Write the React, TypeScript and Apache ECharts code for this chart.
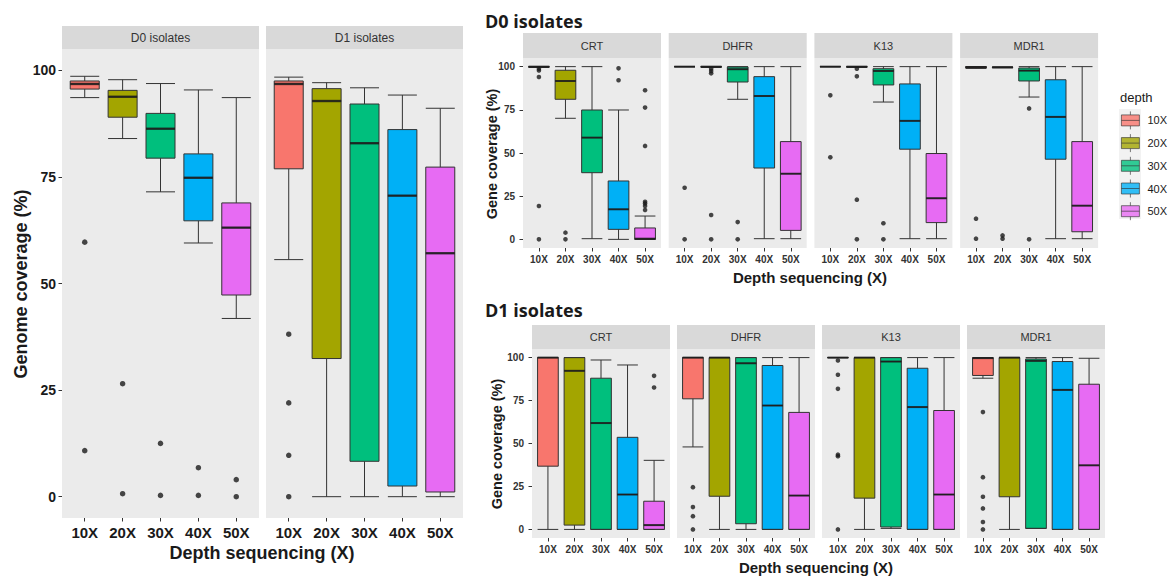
import React, { useEffect, useRef } from 'react';
import * as echarts from 'echarts';

// ---------- data ----------
const depths = ['10X', '20X', '30X', '40X', '50X'];
const depthColors = ['#F8766D', '#A3A500', '#00BF7D', '#00B0F6', '#E76BF3'];
const yTicks = [0, 25, 50, 75, 100];

// Genome coverage (%), each row: [min, Q1, median, Q3, max] per depth
const genomeD0Box = [
  [93.6, 95.6, 96.8, 97.5, 98.6],
  [84.0, 89.0, 93.8, 95.3, 97.8],
  [71.5, 79.4, 86.3, 89.9, 96.9],
  [59.5, 64.7, 74.8, 80.4, 95.4],
  [41.8, 47.3, 63.1, 68.9, 93.6],
];
const genomeD0Out = [[59.7, 10.8], [26.5, 0.7], [12.5, 0.3], [6.8, 0.3], [4.0, 0]];

const genomeD1Box = [
  [55.6, 76.9, 96.8, 97.5, 98.4],
  [0, 32.4, 92.8, 95.7, 97.1],
  [0, 8.3, 82.9, 92.1, 95.9],
  [0, 2.5, 70.6, 86.1, 94.2],
  [0, 1.1, 57.1, 77.3, 91.1],
];
const genomeD1Out = [[38.1, 22.0, 9.7, 0], [], [], [], []];

const geneNames = ['CRT', 'DHFR', 'K13', 'MDR1'];

// Gene coverage (%), D0 isolates
const crtD0Box = [
  [99.5, 99.8, 100, 100, 100],
  [70.1, 81.1, 91.7, 97.9, 100],
  [0.4, 38.6, 58.9, 74.9, 100],
  [0, 5.8, 17.4, 33.8, 74.9],
  [0, 0, 0.4, 6.6, 13.5],
];
const crtD0Out = [[98.8, 97.8, 94.0, 19.3, 0], [3.9, 0], [], [99.0, 92.1], [86.3, 76.3, 54.1, 21.8, 20.8, 19.3, 17.0]];

const dhfrD0Box = [
  [100, 100, 100, 100, 100],
  [99.5, 99.8, 100, 100, 100],
  [81.1, 91.1, 98.5, 99.8, 100],
  [0.4, 41.3, 83.0, 94.2, 100],
  [0.4, 5.2, 38.0, 56.6, 100],
];
const dhfrD0Out = [[29.9, 0], [98.8, 97.5, 96.1, 14.1, 0], [10.0, 0], [], []];

const k13D0Box = [
  [100, 100, 100, 100, 100],
  [99.5, 99.8, 100, 100, 100],
  [79.5, 89.4, 97.5, 98.8, 100],
  [0.4, 52.2, 68.6, 90.0, 100],
  [0.4, 9.7, 23.8, 49.7, 100],
];
const k13D0Out = [[83.4, 47.5], [98.8, 94.4, 23.0, 0], [9.3, 0], [], []];

const mdr1D0Box = [
  [99.0, 99.2, 99.7, 100, 100],
  [99.3, 99.5, 99.6, 99.7, 99.8],
  [82.4, 91.7, 97.7, 99.2, 100],
  [0.4, 46.4, 70.9, 92.4, 100],
  [0.4, 4.4, 19.5, 56.6, 100],
];
const mdr1D0Out = [[12.0, 0.4], [2.3, 0.4], [75.8, 0], [], []];

// Gene coverage (%), D1 isolates
const crtD1Box = [
  [0, 36.8, 100, 100, 100],
  [0, 2.5, 92.3, 100, 100],
  [0, 0, 61.9, 88.0, 98.6],
  [0, 0, 20.3, 53.6, 95.7],
  [0, 0, 2.5, 16.4, 40.2],
];
const crtD1Out = [[], [], [], [], [89.4, 82.6]];

const dhfrD1Box = [
  [48.0, 76.0, 100, 100, 100],
  [0, 19.3, 100, 100, 100],
  [0, 3.3, 96.7, 100, 100],
  [0, 0, 72.1, 95.4, 100],
  [0, 0, 19.7, 68.1, 100],
];
const dhfrD1Out = [[24.6, 13.0, 7.7, 0], [], [], [], []];

const k13D1Box = [
  [100, 100, 100, 100, 100],
  [0, 18.2, 100, 100, 100],
  [0.6, 1.4, 97.7, 100, 100],
  [0, 0, 71.2, 93.8, 100],
  [0, 0, 20.3, 69.2, 100],
];
const k13D1Out = [[98.3, 90.0, 81.8, 43.5, 42.6, 0], [], [], [], []];

const mdr1D1Box = [
  [88.0, 89.6, 99.7, 99.9, 100],
  [0, 19.0, 100, 100, 100],
  [0.6, 0.6, 98.1, 99.2, 100],
  [0, 0, 81.2, 97.7, 100],
  [0, 0, 37.3, 84.5, 99.6],
];
const mdr1D1Out = [[68.3, 30.4, 19.0, 12.2, 4.3, 0], [], [], [], []];

// ---------- layout ----------
const BASE_FONT = "'Liberation Sans', Arial, sans-serif";
const TITLE_FONT = "'Open Sans', 'Liberation Sans', sans-serif";

type Facet = {
  label: string;
  box: number[][];
  out: number[][];
  x: number;
  y: number;
  w: number;
  h: number;
  stripH: number;
  big: boolean;
  showY: boolean;
};

const facets: Facet[] = [
  { label: 'D0 isolates', box: genomeD0Box, out: genomeD0Out, x: 62, y: 49, w: 197, h: 469, stripH: 23, big: true, showY: true },
  { label: 'D1 isolates', box: genomeD1Box, out: genomeD1Out, x: 266, y: 49, w: 197, h: 469, stripH: 23, big: true, showY: false },
];
const topBoxes = [crtD0Box, dhfrD0Box, k13D0Box, mdr1D0Box];
const topOuts = [crtD0Out, dhfrD0Out, k13D0Out, mdr1D0Out];
const botBoxes = [crtD1Box, dhfrD1Box, k13D1Box, mdr1D1Box];
const botOuts = [crtD1Out, dhfrD1Out, k13D1Out, mdr1D1Out];
geneNames.forEach((g, i) => {
  facets.push({ label: g, box: topBoxes[i], out: topOuts[i], x: 523 + i * 145.7, y: 58, w: 138, h: 190, stripH: 25, big: false, showY: i === 0 });
});
geneNames.forEach((g, i) => {
  facets.push({ label: g, box: botBoxes[i], out: botOuts[i], x: 532 + i * 145, y: 349, w: 138, h: 189, stripH: 24, big: false, showY: i === 0 });
});

function buildOption() {
  const grid: any[] = [];
  const xAxis: any[] = [];
  const yAxis: any[] = [];
  const series: any[] = [];
  const graphic: any[] = [];

  facets.forEach((f, i) => {
    const bw = f.big ? 29 : 20.7;
    const dot = f.big ? 5.5 : 4.6;
    const medT = f.big ? 2.4 : 2;
    const labelColor = f.big ? '#1a1a1a' : '#333333';
    grid.push({ left: f.x, top: f.y, width: f.w, height: f.h, show: true, backgroundColor: '#EBEBEB', borderWidth: 0, containLabel: false });
    xAxis.push({
      gridIndex: i,
      type: 'value',
      min: 0.4,
      max: 5.6,
      position: 'bottom',
      axisLine: { show: false, onZero: false },
      splitLine: { show: false },
      axisTick: { show: true, length: 3.5, customValues: [1, 2, 3, 4, 5], lineStyle: { color: '#333', width: 1 } },
      axisLabel: {
        customValues: [1, 2, 3, 4, 5],
        formatter: (v: number) => depths[Math.round(v) - 1] ?? '',
        fontSize: f.big ? 15 : 10,
        fontWeight: 'bold',
        color: labelColor,
        fontFamily: BASE_FONT,
        margin: f.big ? 7 : 6,
      },
    });
    yAxis.push({
      gridIndex: i,
      type: 'value',
      min: -5,
      max: 105,
      position: 'left',
      axisLine: { show: false, onZero: false },
      splitLine: { show: false },
      axisTick: { show: f.showY, length: 3.5, customValues: yTicks, lineStyle: { color: '#333', width: 1 } },
      axisLabel: {
        show: f.showY,
        customValues: yTicks,
        fontSize: f.big ? 14 : 10,
        fontWeight: 'bold',
        color: labelColor,
        fontFamily: BASE_FONT,
        margin: f.big ? 6 : 8,
      },
    });
    series.push({
      type: 'boxplot',
      xAxisIndex: i,
      yAxisIndex: i,
      boxWidth: [bw, bw],
      silent: true,
      emphasis: { disabled: true },
      itemStyle: { borderColor: '#333333', borderWidth: 1 },
      data: f.box.map((b, k) => ({ value: [k + 1, ...b], itemStyle: { color: depthColors[k], borderColor: '#333333', borderWidth: 1 } })),
      z: 2,
    });
    series.push({
      type: 'scatter',
      xAxisIndex: i,
      yAxisIndex: i,
      silent: true,
      symbol: 'rect',
      symbolSize: [bw, medT],
      itemStyle: { color: '#1a1a1a' },
      data: f.box.map((b, k) => [k + 1, b[2]]),
      z: 4,
    });
    series.push({
      type: 'scatter',
      xAxisIndex: i,
      yAxisIndex: i,
      silent: true,
      symbol: 'circle',
      symbolSize: dot,
      itemStyle: { color: '#1a1a1a' },
      data: f.out.flatMap((vals, k) => vals.map((v) => [k + 1, v])),
      z: 5,
    });
    // strip
    graphic.push({ type: 'rect', shape: { x: f.x, y: f.y - f.stripH, width: f.w, height: f.stripH }, style: { fill: '#D9D9D9' }, silent: true });
    graphic.push({
      type: 'text',
      x: f.x + f.w / 2,
      y: f.y - f.stripH / 2,
      silent: true,
      style: { text: f.label, textAlign: 'center', textVerticalAlign: 'middle', fontSize: f.big ? 12 : 11, fontFamily: BASE_FONT, fill: '#333333' },
    });
  });

  // hidden coordinate system that only carries the legend entries
  const li = facets.length;
  grid.push({ left: 0, top: 0, width: 1, height: 1, show: false });
  xAxis.push({ gridIndex: li, type: 'value', show: false });
  yAxis.push({ gridIndex: li, type: 'value', show: false });
  depths.forEach((d, k) => {
    series.push({ type: 'scatter', name: d, xAxisIndex: li, yAxisIndex: li, data: [], itemStyle: { color: depthColors[k] } });
  });

  const text = (t: string, x: number, y: number, size: number, font: string, rot = 0, weight = 'bold', align = 'center') => ({
    type: 'text',
    x,
    y,
    rotation: rot,
    silent: true,
    style: { text: t, textAlign: align, textVerticalAlign: 'middle', fontSize: size, fontWeight: weight, fontFamily: font, fill: '#1a1a1a' },
  });

  graphic.push(text('Genome coverage (%)', 21, 284, 18, BASE_FONT, Math.PI / 2));
  graphic.push(text('Depth sequencing (X)', 262, 553, 18, BASE_FONT));
  graphic.push(text('D0 isolates', 485, 21, 18, TITLE_FONT, 0, 'bold', 'left'));
  graphic.push(text('Gene coverage (%)', 492, 154, 14.5, BASE_FONT, Math.PI / 2));
  graphic.push(text('Depth sequencing (X)', 810, 277, 15, BASE_FONT));
  graphic.push(text('D1 isolates', 485, 310, 18, TITLE_FONT, 0, 'bold', 'left'));
  graphic.push(text('Gene coverage (%)', 497, 444, 14.5, BASE_FONT, Math.PI / 2));
  graphic.push(text('Depth sequencing (X)', 816, 567, 15, BASE_FONT));
  graphic.push(text('depth', 1120, 97, 13, BASE_FONT, 0, 'normal', 'left'));
  graphic.push({ type: 'rect', z: -1, shape: { x: 1119, y: 109, width: 22, height: 110 }, style: { fill: '#F2F2F2' }, silent: true });

  return {
    animation: false,
    backgroundColor: '#ffffff',
    textStyle: { fontFamily: BASE_FONT },
    grid,
    xAxis,
    yAxis,
    series,
    graphic,
    legend: {
      orient: 'vertical',
      left: 1121,
      top: 111,
      padding: 0,
      itemWidth: 18,
      itemHeight: 18,
      itemGap: 3.9,
      selectedMode: false,
      data: depths.map((d) => ({ name: d, icon: 'path://M9,0L9,3.5M0,3.5L18,3.5L18,14.5L0,14.5ZM0,9L18,9M9,14.5L9,18' })),
      itemStyle: { borderColor: '#333333', borderWidth: 0.8 },
      textStyle: { fontSize: 11, color: '#1a1a1a', fontFamily: BASE_FONT, padding: [0, 0, 0, 3] },
    },
  };
}

export default function App() {
  const ref = useRef<HTMLDivElement>(null);
  useEffect(() => {
    if (!ref.current) return;
    const chart = echarts.init(ref.current, undefined, { renderer: 'svg' });
    chart.setOption(buildOption() as any);
    return () => chart.dispose();
  }, []);
  return <div ref={ref} style={{ position: 'absolute', left: 0, top: 0, width: 1171, height: 577, background: '#fff' }} />;
}
